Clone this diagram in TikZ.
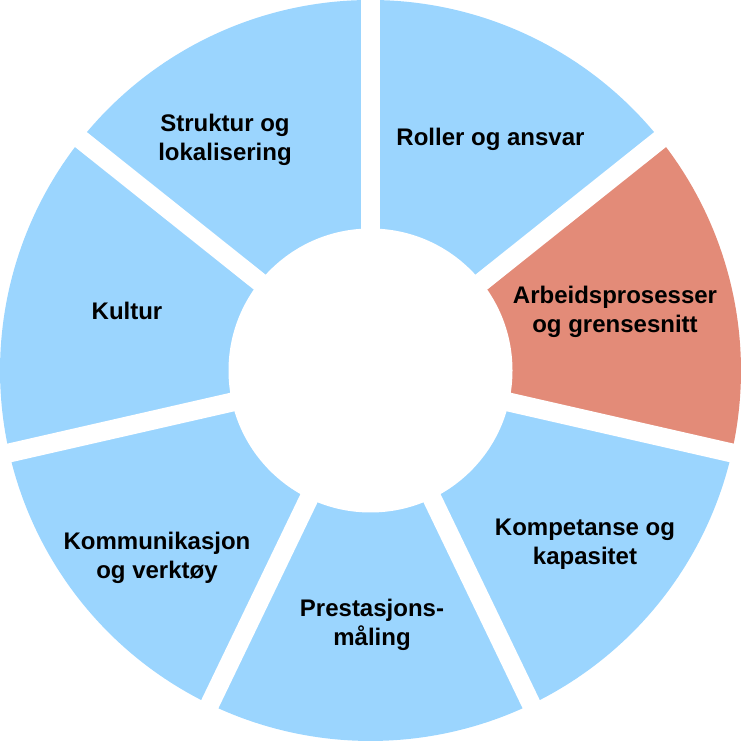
\documentclass[tikz,border=0pt]{standalone}
\usepackage{fontspec}
\setmainfont{Liberation Sans}
\definecolor{segblue}{HTML}{9BD5FE}
\definecolor{segred}{HTML}{E38B78}
\begin{document}
\begin{tikzpicture}[x=1pt,y=1pt,
  lbl/.style={font=\bfseries\fontsize{24}{28.5}\selectfont, align=center, text=black, inner sep=0pt},
  gapline/.style={white, line width=19pt}]
\useasboundingbox (0,0) rectangle (741,741);
\coordinate (c) at (370.5,370.5);
\foreach \k/\col in {0/segblue,1/segred,2/segblue,3/segblue,4/segblue,5/segblue,6/segblue} {
  \pgfmathsetmacro\a{90-\k*360/7}
  \pgfmathsetmacro\b{90-(\k+1)*360/7}
  \fill[\col] (c) -- ++(\a:370.5) arc[start angle=\a, end angle=\b, radius=370.5] -- cycle;
}
\foreach \k in {0,...,6} {
  \pgfmathsetmacro\a{90-\k*360/7}
  \draw[gapline] (c) -- ++(\a:385);
}
\fill[white] (c) circle[radius=142];
\node[lbl] (roller) at (490.5,602) {Roller og ansvar};
\node[lbl] (struktur) at (225,601) {Struktur og\\lokalisering};
\node[lbl] (arbeid) at (615,429) {Arbeidsprosesser\\og grensesnitt};
\node[lbl] (kultur) at (127,430) {Kultur};
\node[lbl] (kompetanse) at (585,197) {Kompetanse og\\kapasitet};
\node[lbl] (prestasjon) at (372,116) {Prestasjons-\\måling};
\node[lbl] (kommunikasjon) at (157,183) {Kommunikasjon\\og verktøy};
\end{tikzpicture}
\end{document}
